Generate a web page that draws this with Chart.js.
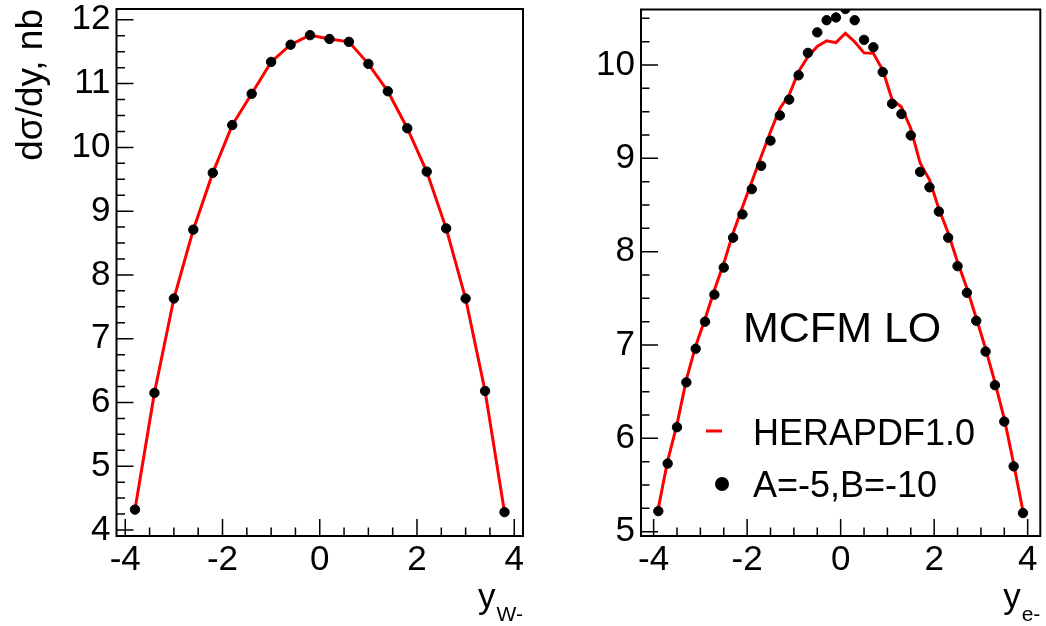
<!DOCTYPE html>
<html>
<head>
<meta charset="utf-8">
<script src="https://cdn.jsdelivr.net/npm/chart.js@4.4.0/dist/chart.umd.min.js"></script>
<style>
html, body { margin: 0; padding: 0; background: #fff; overflow: hidden; }
#izq { position: absolute; left: 0; top: 0; }
#der { position: absolute; left: 540px; top: 0; }
</style>
</head>
<body>
<canvas id="izq" width="540" height="626"></canvas>
<canvas id="der" width="506" height="626"></canvas>
<script>
const fuente = "'Liberation Sans', Arial, Helvetica, sans-serif"

// rapidez del W-
const yW = [-3.8, -3.4, -3.0, -2.6, -2.2, -1.8, -1.4, -1.0, -0.6, -0.2,
            0.2, 0.6, 1.0, 1.4, 1.8, 2.2, 2.6, 3.0, 3.4, 3.8]
const puntosW = [4.32, 6.15, 7.63, 8.71, 9.60, 10.35, 10.84, 11.34, 11.61, 11.76,
                 11.70, 11.655, 11.31, 10.88, 10.30, 9.62, 8.73, 7.63, 6.18, 4.28]
const curvaW = [4.32, 6.15, 7.63, 8.71, 9.60, 10.35, 10.84, 11.34, 11.61, 11.76,
                11.70, 11.655, 11.31, 10.88, 10.30, 9.62, 8.73, 7.63, 6.18, 4.28]

// rapidez del electron
const yE = [-3.9, -3.7, -3.5, -3.3, -3.1, -2.9, -2.7, -2.5, -2.3, -2.1,
            -1.9, -1.7, -1.5, -1.3, -1.1, -0.9, -0.7, -0.5, -0.3, -0.1,
            0.1, 0.3, 0.5, 0.7, 0.9, 1.1, 1.3, 1.5, 1.7, 1.9,
            2.1, 2.3, 2.5, 2.7, 2.9, 3.1, 3.3, 3.5, 3.7, 3.9]
const puntosE = [5.22, 5.73, 6.12, 6.60, 6.96, 7.25, 7.54, 7.83, 8.15, 8.40,
                 8.67, 8.92, 9.19, 9.46, 9.63, 9.89, 10.13, 10.35, 10.48, 10.51,
                 10.60, 10.48, 10.27, 10.19, 9.925, 9.585, 9.475, 9.245, 8.855, 8.69,
                 8.43, 8.15, 7.845, 7.56, 7.26, 6.93, 6.57, 6.18, 5.70, 5.20]
const curvaE = [5.25, 5.76, 6.15, 6.63, 6.99, 7.28, 7.59, 7.875, 8.20, 8.48,
                8.75, 9.02, 9.285, 9.535, 9.68, 9.93, 10.09, 10.20, 10.26, 10.24,
                10.34, 10.25, 10.13, 10.125, 9.946, 9.63, 9.55, 9.32, 8.95, 8.77,
                8.46, 8.20, 7.89, 7.61, 7.29, 6.96, 6.60, 6.21, 5.73, 5.22]

const ticksX = [-4, -2, 0, 2, 4]
const ticksYW = [4, 5, 6, 7, 8, 9, 10, 11, 12]
const ticksYE = [5, 6, 7, 8, 9, 10]

// marco estilo ROOT: caja, marcas hacia dentro y titulos
const marco = {
    id: "marco",
    afterDatasetsDraw(chart, args, opts) {
        const ctx = chart.ctx
        const a = chart.chartArea
        const sx = chart.scales.x
        const sy = chart.scales.y
        ctx.save()
        ctx.strokeStyle = "#000"
        ctx.lineWidth = 1.5
        ctx.beginPath()
        for (let v = Math.ceil(sx.min / 0.5) * 0.5; v <= sx.max; v += 0.5) {
            const px = sx.getPixelForValue(v)
            const largo = ticksX.includes(v) ? 17 : 8.5
            ctx.moveTo(px, a.bottom)
            ctx.lineTo(px, a.bottom - largo)
        }
        for (let v = Math.ceil(sy.min / 0.25) * 0.25; v <= sy.max; v += 0.25) {
            const py = sy.getPixelForValue(v)
            const largo = Number.isInteger(v) ? 17 : 8.5
            ctx.moveTo(a.left, py)
            ctx.lineTo(a.left + largo, py)
        }
        ctx.stroke()
        ctx.lineWidth = 2
        ctx.strokeRect(a.left, a.top, a.right - a.left, a.bottom - a.top)

        // titulo eje x con subindice
        ctx.fillStyle = "#000"
        ctx.textAlign = "right"
        ctx.textBaseline = "alphabetic"
        ctx.font = "21px " + fuente
        ctx.fillText(opts.sub, a.right, 621)
        const anchoSub = ctx.measureText(opts.sub).width
        ctx.font = "35px " + fuente
        ctx.fillText("y", a.right - anchoSub - 1, 608)

        if (opts.tituloY) {
            ctx.save()
            ctx.translate(42, a.top)
            ctx.rotate(-Math.PI / 2)
            ctx.font = "37px " + fuente
            ctx.textAlign = "right"
            ctx.fillText(opts.tituloY, 0, 0)
            ctx.restore()
        }
        ctx.restore()
    }
}

const leyenda = {
    id: "leyenda",
    afterDraw(chart) {
        const ctx = chart.ctx
        const a = chart.chartArea
        ctx.save()
        ctx.fillStyle = "#000"
        ctx.textAlign = "left"
        ctx.textBaseline = "alphabetic"
        ctx.font = "43px " + fuente
        ctx.fillText("MCFM LO", a.left + 102, 342)
        ctx.font = "36px " + fuente
        ctx.fillText("HERAPDF1.0", a.left + 112, 445)
        ctx.fillText("A=-5,B=-10", a.left + 112, 497)
        ctx.strokeStyle = "#ff0000"
        ctx.lineWidth = 3
        ctx.beginPath()
        ctx.moveTo(a.left + 65, 431)
        ctx.lineTo(a.left + 81, 431)
        ctx.stroke()
        ctx.beginPath()
        ctx.arc(a.left + 81, 484, 7, 0, Math.PI * 2)
        ctx.fill()
        ctx.restore()
    }
}

const crearGrafico = (lienzo, xs, puntos, curva, rangoX, rangoY, ticksY, anchoY, padding, opcionesMarco, extra) => {
    return new Chart(document.querySelector(lienzo), {
        type: "scatter",
        data: {
            datasets: [{
                data: xs.map((x, i) => ({ x: x, y: puntos[i] })),
                backgroundColor: "#000",
                borderColor: "#000",
                pointRadius: 4.7,
                pointHoverRadius: 4.7,
                clip: 0
            }, {
                data: xs.map((x, i) => ({ x: x, y: curva[i] })),
                showLine: true,
                borderColor: "#ff0000",
                borderWidth: 3,
                pointRadius: 0,
                tension: 0,
                clip: 0
            }]
        },
        options: {
            responsive: false,
            animation: false,
            events: [],
            layout: { padding: padding },
            plugins: {
                legend: { display: false },
                tooltip: { enabled: false },
                marco: opcionesMarco
            },
            scales: {
                x: {
                    type: "linear",
                    min: rangoX[0],
                    max: rangoX[1],
                    grid: { display: false, drawTicks: false },
                    border: { display: false },
                    afterBuildTicks: s => { s.ticks = ticksX.map(v => ({ value: v })) },
                    afterFit: s => { s.height = 90; s.paddingLeft = 0; s.paddingRight = 0 },
                    ticks: {
                        font: { family: fuente, size: 35 },
                        color: "#000",
                        padding: 3,
                        maxRotation: 0,
                        autoSkip: false,
                        callback: v => String(v)
                    }
                },
                y: {
                    type: "linear",
                    min: rangoY[0],
                    max: rangoY[1],
                    grid: { display: false, drawTicks: false },
                    border: { display: false },
                    afterBuildTicks: s => { s.ticks = ticksY.map(v => ({ value: v })) },
                    afterFit: s => { s.width = anchoY; s.paddingTop = 0; s.paddingBottom = 0 },
                    ticks: {
                        font: { family: fuente, size: 35 },
                        color: "#000",
                        padding: 6,
                        autoSkip: false,
                        callback: v => String(v)
                    }
                }
            }
        },
        plugins: [marco].concat(extra)
    })
}

crearGrafico("#izq", yW, puntosW, curvaW, [-4.18, 4.18], [3.906, 12.17], ticksYW, 116.5,
    { left: 0, right: 17, top: 9, bottom: 0 },
    { sub: "W-", tituloY: "dσ/dy, nb" }, [])

crearGrafico("#der", yE, puntosE, curvaE, [-4.27, 4.27], [4.954, 10.595], ticksYE, 101,
    { left: 0, right: 1, top: 9.5, bottom: 0 },
    { sub: "e-", tituloY: "" }, [leyenda])
</script>
</body>
</html>
